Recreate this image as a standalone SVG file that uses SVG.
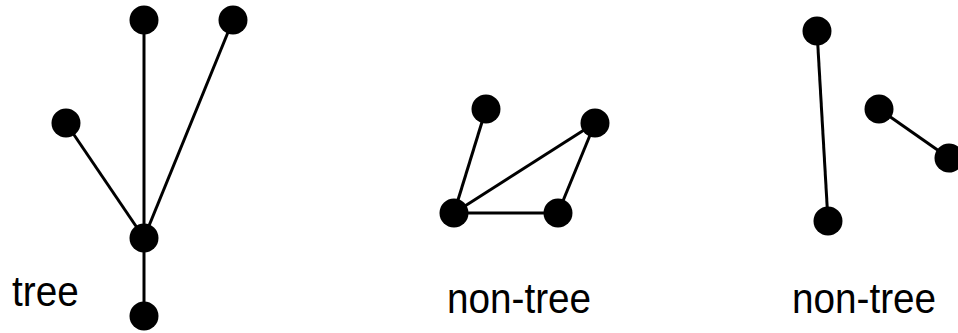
<svg xmlns="http://www.w3.org/2000/svg" width="958" height="333" viewBox="0 0 958 333">
  <style>
    .edge { stroke: #000; stroke-width: 3; fill: none; }
    .node { fill: #000; }
    .label { font-family: "Liberation Sans", Arial, Helvetica, sans-serif; font-size: 43px; fill: #000; }
  </style>
  <rect width="958" height="333" fill="#fff"/>

  <!-- connectors -->
  <g id="connectors" class="edge">
    <!-- tree -->
    <line x1="144" y1="20" x2="144" y2="238"/>
    <line x1="233" y1="20" x2="144" y2="238"/>
    <line x1="66" y1="123" x2="144" y2="238"/>
    <line x1="144" y1="238" x2="144" y2="316"/>
    <!-- cyclic graph -->
    <line x1="486" y1="109" x2="454" y2="213"/>
    <line x1="454" y1="213" x2="595" y2="123"/>
    <line x1="454" y1="213" x2="558" y2="213"/>
    <line x1="558" y1="213" x2="595" y2="123"/>
    <!-- disconnected graph -->
    <line x1="817" y1="31" x2="828" y2="221"/>
    <line x1="879" y1="109" x2="949" y2="158"/>
  </g>

  <!-- tree nodes -->
  <g id="t1"><circle class="node" cx="144" cy="20" r="14.5"/></g>
  <g id="t2"><circle class="node" cx="233" cy="20" r="14.5"/></g>
  <g id="t3"><circle class="node" cx="66" cy="123" r="14.5"/></g>
  <g id="t4"><circle class="node" cx="144" cy="238" r="14.5"/></g>
  <g id="t5"><circle class="node" cx="144" cy="316" r="14.5"/></g>

  <!-- cyclic graph nodes -->
  <g id="c1"><circle class="node" cx="486" cy="109" r="14.5"/></g>
  <g id="c2"><circle class="node" cx="595" cy="123" r="14.5"/></g>
  <g id="c3"><circle class="node" cx="454" cy="213" r="14.5"/></g>
  <g id="c4"><circle class="node" cx="558" cy="213" r="14.5"/></g>

  <!-- disconnected graph nodes -->
  <g id="d1"><circle class="node" cx="817" cy="31" r="14.5"/></g>
  <g id="d2"><circle class="node" cx="879" cy="109" r="14.5"/></g>
  <g id="d3"><circle class="node" cx="949" cy="158" r="14.5"/></g>
  <g id="d4"><circle class="node" cx="828" cy="221" r="14.5"/></g>

  <!-- captions (slightly condensed lettering) -->
  <text class="label" transform="translate(12,306) scale(0.9,1)">tree</text>
  <text class="label" transform="translate(447,313) scale(0.9,1)">non-tree</text>
  <text class="label" transform="translate(792,313) scale(0.9,1)">non-tree</text>
</svg>
